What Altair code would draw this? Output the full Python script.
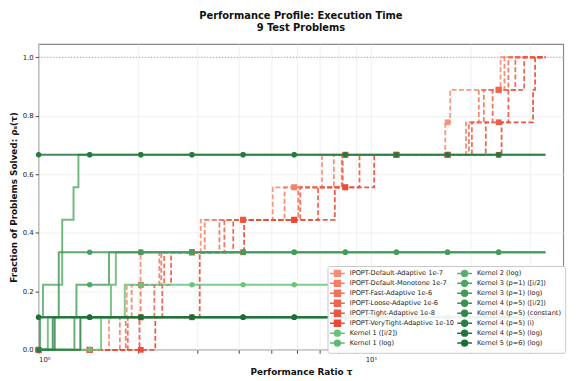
import altair as alt
import pandas as pd

# ---------------- data ----------------
N_PROBLEMS = 9
TAU_MAX = 33.5          # end of every profile curve
X_MAX = 37.9            # right edge of the axis
MARKER_TAUS = [1.0, 1.425, 2.031, 2.894, 4.124, 5.877, 8.375, 11.93, 17.01, 24.23]

IPOPT_NAMES = [
    "IPOPT-Default-Adaptive 1e-7",
    "IPOPT-Default-Monotone 1e-7",
    "IPOPT-Fast-Adaptive 1e-6",
    "IPOPT-Loose-Adaptive 1e-6",
    "IPOPT-Tight-Adaptive 1e-8",
    "IPOPT-VeryTight-Adaptive 1e-10",
]
# performance ratio at which each additional problem becomes solved
IPOPT_START = [0, 0, 0, 0, 0, 0]
IPOPT_STEPS = [
    [1.629, 1.842, 2.027, 3.075, 5.065, 7.126, 16.74, 17.32, 24.55],
    [1.756, 1.906, 2.308, 3.160, 5.497, 7.734, 19.32, 21.12, 25.22],
    [1.829, 2.027, 2.340, 3.501, 6.047, 8.170, 19.72, 21.86, 25.92],
    [1.855, 2.230, 2.388, 3.623, 6.130, 8.226, 20.13, 23.24, 27.20],
    [2.013, 2.356, 2.505, 3.853, 6.934, 9.238, 22.16, 25.92, 28.92],
    [2.245, 3.054, 3.054, 4.153, 7.788, 10.23, 24.72, 30.75, 31.18],
]
IPOPT_COLORS = ["#f68d74", "#f47f66", "#f27159", "#f0634c", "#ee5540", "#ec4834"]

KERNEL_NAMES = [
    "Kernel 1 ([i/2])",
    "Kernel 1 (log)",
    "Kernel 2 (log)",
    "Kernel 3 (p=1) ([i/2])",
    "Kernel 3 (p=1) (log)",
    "Kernel 4 (p=5) ([i/2])",
    "Kernel 4 (p=5) (constant)",
    "Kernel 4 (p=5) (i)",
    "Kernel 4 (p=5) (log)",
    "Kernel 5 (p=6) (log)",
]
KERNEL_START = [0, 0, 1, 0, 0, 0, 0, 0, 6, 1]
KERNEL_STEPS = [
    [1.542, 1.817],
    [1.066, 1.651, 1.708],
    [1.031, 1.178, 1.178, 1.274, 1.318],
    [1.282, 1.300, 1.629],
    [1.0096, 1.150, 1.150],
    [1.103],
    [1.118],
    [1.336],
    [],
    [],
]
KERNEL_COLORS = ["#6cc27c", "#62b873", "#58ae6b", "#4ea463", "#459a5b",
                 "#3b9053", "#32874b", "#2a7e44", "#22763d", "#1b6e37"]

Y_TICKS = [0.0, 0.2, 0.4, 0.6, 0.8, 1.0]
X_TICKS = [1, 2, 3, 4, 5, 6, 7, 8, 9, 10, 20, 30]
REF_LEVEL = [1.0]

# ---------------- build tables ----------------
def level_at(start, steps, tau):
    return start + sum(1 for s in steps if s <= tau)

line_rows, mark_rows = [], []
groups = [("IPOPT", IPOPT_NAMES, IPOPT_START, IPOPT_STEPS, IPOPT_COLORS),
          ("Kernel", KERNEL_NAMES, KERNEL_START, KERNEL_STEPS, KERNEL_COLORS)]
for kind, names, starts, stepss, cols in groups:
    for name, start, steps, hexc in zip(names, starts, stepss, cols):
        for t in [1.0] + sorted(set(steps)) + [TAU_MAX]:
            line_rows.append({"series": name, "kind": kind, "hex": hexc, "tau": t,
                              "frac": level_at(start, steps, t) / N_PROBLEMS})
        for t in MARKER_TAUS:
            mark_rows.append({"series": name, "kind": kind, "hex": hexc, "tau": t,
                              "frac": level_at(start, steps, t) / N_PROBLEMS})
lines = pd.DataFrame(line_rows)
marks = pd.DataFrame(mark_rows)

order = IPOPT_NAMES + KERNEL_NAMES
color_range = IPOPT_COLORS + KERNEL_COLORS
SQ = "M-2.5,0H2.5M-1,-1H1V1H-1Z"
CI = "M-2.5,0H2.5M1,0A1,1,0,1,1,-1,0A1,1,0,1,1,1,0Z"
shape_range = [SQ if n in IPOPT_NAMES else CI for n in order]

FONT = "DejaVu Sans"
X = alt.X("tau:Q", title="Performance Ratio τ",
          scale=alt.Scale(type="log", domain=[1, X_MAX], nice=False),
          axis=alt.Axis(values=X_TICKS,
                        labelExpr="datum.value == 1 ? '10⁰' : (datum.value == 10 ? '10¹' : '')"))
Y = alt.Y("frac:Q", title="Fraction of Problems Solved: ρₛ(τ)",
          scale=alt.Scale(domain=[0, 1.045], nice=False, zero=False),
          axis=alt.Axis(values=Y_TICKS, format=".1f"))
HEX = alt.Color("hex:N", scale=None)

ref = alt.Chart(pd.DataFrame({"frac": REF_LEVEL})).mark_rule(
    color="#9a9a9a", strokeDash=[1, 2], strokeWidth=1).encode(y=Y)

red_lines = alt.Chart(lines[lines.kind == "IPOPT"]).mark_line(
    interpolate="step-after", strokeDash=[5, 2.5], strokeWidth=1.8, opacity=0.9).encode(
    x=X, y=Y, color=HEX, detail="series:N")
red_marks = alt.Chart(marks[marks.kind == "IPOPT"]).mark_point(
    shape="square", filled=True, size=34, opacity=0.95).encode(x=X, y=Y, color=HEX)

green_lines = alt.Chart(lines[lines.kind == "Kernel"]).mark_line(
    interpolate="step-after", strokeWidth=2.0, opacity=0.85).encode(
    x=X, y=Y, color=HEX, detail="series:N")
green_marks = alt.Chart(marks[marks.kind == "Kernel"]).mark_point(
    shape="circle", filled=True, size=30, opacity=0.95).encode(x=X, y=Y, color=HEX)

legend_layer = alt.Chart(marks).transform_filter("false").mark_point(
    filled=True, opacity=1).encode(
    x=X, y=Y,
    fill=alt.Fill("series:N", scale=alt.Scale(domain=order, range=color_range),
                  legend=alt.Legend(
        title=None, orient="none", legendX=293, legendY=225, columns=2,
        labelFont=FONT, labelFontSize=6.7, labelColor="#222", labelLimit=300,
        symbolSize=36, symbolStrokeWidth=1.5, symbolOffset=2.5, labelOffset=8.5,
        rowPadding=-1.9, columnPadding=0, padding=3.5,
        fillColor="rgba(255,255,255,0.92)", strokeColor="#c8c8c8", cornerRadius=2)),
    stroke=alt.Stroke("series:N", scale=alt.Scale(domain=order, range=color_range)),
    shape=alt.Shape("series:N", scale=alt.Scale(domain=order, range=shape_range)),
)

chart = alt.layer(
    ref, red_lines, red_marks, green_lines, green_marks, legend_layer
).properties(
    width=532, height=310,
    title=alt.Title(["Performance Profile: Execution Time", "9 Test Problems"],
                    font=FONT, fontSize=10, fontWeight="bold", color="#111",
                    anchor="middle", offset=11, lineHeight=12.5),
    padding={"left": 31, "top": 34, "right": 17, "bottom": 28},
    autosize=alt.AutoSizeParams(type="none"),
).configure_view(stroke="#8a8a8a", strokeWidth=1.2).configure_axis(
    labelFont=FONT, labelFontSize=7, labelColor="#222",
    titleFont=FONT, titleFontSize=9, titleFontWeight="bold", titleColor="#111",
    gridColor="#ececec", gridWidth=0.8, domain=False,
    tickColor="#444", tickSize=3.5, labelPadding=2,
).configure_axisX(titlePadding=6).configure_axisY(titlePadding=4)

chart.save("out.html", embed_options={"renderer": "svg", "actions": False})
